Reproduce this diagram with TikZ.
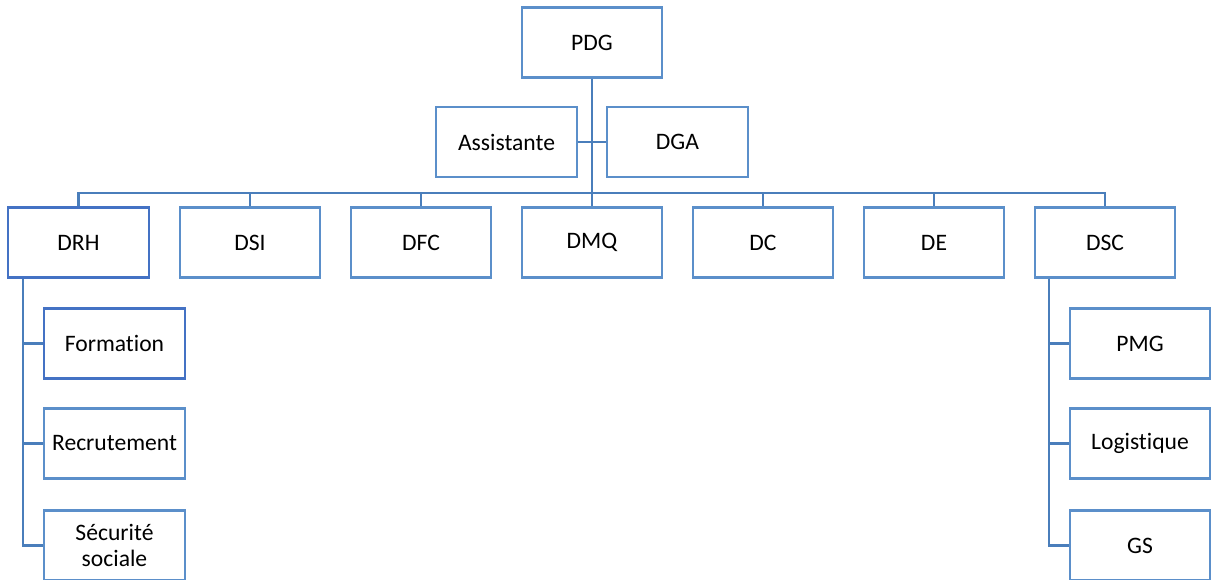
\documentclass[tikz,border=0pt]{standalone}
\usepackage{fontspec}
\setmainfont[Ligatures={NoCommon}]{Carlito}
\usetikzlibrary{calc}
\definecolor{boxblue}{HTML}{5B8FCA}
\definecolor{selblue}{HTML}{4472C4}
\definecolor{lineblue}{HTML}{4A7EBB}
\begin{document}
\begin{tikzpicture}[x=0.75pt,y=-0.75pt,
  orgbox/.style={draw=boxblue,line width=1.6pt,fill=white,minimum width=105.5pt,minimum height=52.5pt,inner sep=0pt,align=center,font=\fontsize{17.7}{20}\selectfont},
  selbox/.style={orgbox,draw=selblue},
  link/.style={draw=lineblue,line width=1.6pt}]
\useasboundingbox (0,0) rectangle (1216,579);
% nodes
\node[orgbox] (pdg) at (592,42.5) {PDG};
\node[orgbox] (ass) at (506.5,142) {Assistante};
\node[orgbox] (dga) at (677.5,142) {DGA};
\node[selbox] (drh) at (78.5,242.5) {DRH};
\node[orgbox] (dsi) at (250,242.5) {DSI};
\node[orgbox] (dfc) at (421,242.5) {DFC};
\node[orgbox] (dmq) at (592,242.5) {DMQ};
\node[orgbox] (dc) at (763,242.5) {DC};
\node[orgbox] (de) at (934,242.5) {DE};
\node[orgbox] (dsc) at (1105,242.5) {DSC};
\node[selbox] (form) at (114.5,343.5) {Formation};
\node[orgbox] (recr) at (114.5,443.5) {Recrutement};
\node[orgbox] (secu) at (114.5,545.5) {Sécurité\\sociale};
\node[orgbox] (pmg) at (1140,343.5) {PMG};
\node[orgbox] (logi) at (1140,443.5) {Logistique};
\node[orgbox] (gs) at (1140,545.5) {GS};
% coordinates
\coordinate (bar) at (592,193);
\coordinate (drhl) at ($(drh.south west)+(16,0)$);
\coordinate (dscl) at ($(dsc.south west)+(15,0)$);
% connectors
\draw[link] (pdg.south) -- (bar);
\draw[link] (ass.east) -- (dga.west);
\foreach \n in {drh,dsi,dfc,dmq,dc,de,dsc} \draw[link] (bar) -| (\n.north);
\foreach \n in {form,recr,secu} \draw[link] (drhl) |- (\n.west);
\foreach \n in {pmg,logi,gs} \draw[link] (dscl) |- (\n.west);
\end{tikzpicture}
\end{document}
